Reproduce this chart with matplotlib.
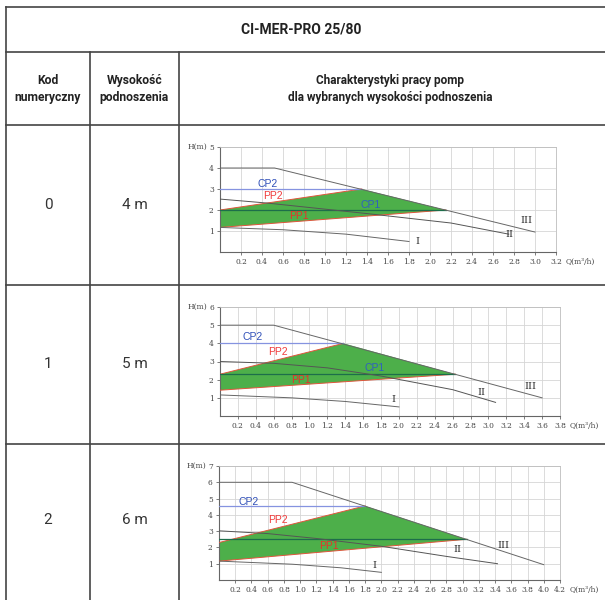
import matplotlib
matplotlib.use('Agg')
import matplotlib.pyplot as plt
from matplotlib.patches import Polygon

# dane z tabeli
kody = ['0', '1', '2']
wysokosci = ['4 m', '5 m', '6 m']
q_max = [3.2, 3.8, 4.2]
h_max = [5, 6, 7]

# krzywa III
q_III = [[0, 0.52, 3.0], [0, 0.6, 3.6], [0, 0.9, 4.0]]
h_III = [[4.0, 4.0, 0.95], [5.0, 5.0, 1.0], [6.0, 6.0, 0.94]]

# krzywa II
q_II = [[0, 0.45, 1.4, 2.2, 2.75],
        [0, 0.6, 1.2, 1.8, 2.6, 3.08],
        [0, 0.6, 1.2, 2.0, 2.8, 3.43]]
h_II = [[2.52, 2.33, 1.83, 1.38, 0.85],
        [3.0, 2.9, 2.65, 2.2, 1.45, 0.75],
        [3.02, 2.85, 2.55, 2.07, 1.45, 1.0]]

# krzywa I
q_I = [[0, 0.6, 1.2, 1.8], [0, 0.8, 1.4, 2.0], [0, 0.9, 1.5, 2.0]]
h_I = [[1.17, 1.06, 0.85, 0.5], [1.16, 1.0, 0.8, 0.5], [1.16, 0.97, 0.75, 0.47]]

# stale cisnienie / proporcjonalne
cp1_h = [2.0, 2.3, 2.5]
cp1_q = [2.15, 2.63, 3.05]
cp2_h = [3.0, 4.0, 4.55]
cp2_q = [1.35, 1.38, 1.8]
pp2_h0 = [2.0, 2.3, 2.3]
pp1_h0 = [1.17, 1.42, 1.16]

# pozycje etykiet (q, h)
etykiety = [
    {'CP2': (0.45, 3.25), 'PP2': (0.5, 2.65), 'CP1': (1.43, 2.25), 'PP1': (0.75, 1.7),
     'III': (2.92, 1.49), 'II': (2.76, 0.83), 'I': (1.88, 0.48)},
    {'CP2': (0.36, 4.34), 'PP2': (0.65, 3.5), 'CP1': (1.73, 2.62), 'PP1': (0.9, 1.97),
     'III': (3.47, 1.6), 'II': (2.92, 1.27), 'I': (1.94, 0.9)},
    {'CP2': (0.36, 4.8), 'PP2': (0.73, 3.67), 'PP1': (1.36, 2.08),
     'III': (3.5, 2.14), 'II': (2.94, 1.88), 'I': (1.91, 0.86)},
]
kolory_etykiet = {'CP2': '#2f4fb8', 'PP2': '#f03c3c', 'CP1': '#2f5fc0', 'PP1': '#e8302a',
                  'III': '#333333', 'II': '#333333', 'I': '#333333'}

# polozenie wykresow w pikselach (lewo, prawo, gora, dol)
osie_px = [(220, 556, 147, 252), (220, 560, 307, 416), (219, 560, 466, 580)]
wiersze_y = [125, 285, 444, 600]

W, H = 605, 600
fig = plt.figure(figsize=(W / 100, H / 100), dpi=100)
bg = fig.add_axes([0, 0, 1, 1])
bg.set_xlim(0, W)
bg.set_ylim(H, 0)
bg.axis('off')

lc = '#444444'
lw = 1.2
# linie tabeli
for y in [7, 52, 125, 285, 444]:
    bg.plot([6, W], [y, y], color=lc, lw=lw)
bg.plot([6, 6], [7, H], color=lc, lw=lw)
bg.plot([90, 90], [52, H], color=lc, lw=lw)
bg.plot([179, 179], [52, H], color=lc, lw=lw)

font = ['Roboto', 'DejaVu Sans']
bg.text(301, 30, 'CI-MER-PRO 25/80', ha='center', va='center', fontsize=10,
        fontweight='bold', family=font, color='#222222')
bg.text(48, 89, 'Kod\nnumeryczny', ha='center', va='center', fontsize=8.7,
        fontweight='bold', family=font, color='#222222', linespacing=1.35)
bg.text(134.5, 89, 'Wysokość\npodnoszenia', ha='center', va='center', fontsize=8.7,
        fontweight='bold', family=font, color='#222222', linespacing=1.35)
bg.text(390, 89, 'Charakterystyki pracy pomp\ndla wybranych wysokości podnoszenia',
        ha='center', va='center', fontsize=8.5, fontweight='bold', family=font,
        color='#222222', linespacing=1.35)

for i in range(3):
    yc = (wiersze_y[i] + wiersze_y[i + 1]) / 2 if i < 2 else 520
    bg.text(48, yc, kody[i], ha='center', va='center', fontsize=11, family=font, color='#333333')
    bg.text(134.5, yc, wysokosci[i], ha='center', va='center', fontsize=11, family=font, color='#333333')

serif = 'DejaVu Serif'
for i in range(3):
    l, r, t, b = osie_px[i]
    ax = fig.add_axes([l / W, 1 - b / H, (r - l) / W, (b - t) / H])
    ax.set_xlim(0, q_max[i])
    ax.set_ylim(0, h_max[i])
    xt = [round(0.2 * k, 1) for k in range(1, int(round(q_max[i] / 0.2)) + 1)]
    ax.set_xticks(xt)
    ax.set_xticklabels(['%.1f' % v for v in xt])
    ax.set_yticks(range(1, h_max[i] + 1))
    ax.grid(True, color='#d6d6d6', lw=0.6)
    ax.set_axisbelow(True)
    for s in ['top', 'right']:
        ax.spines[s].set_color('#bdbdbd')
        ax.spines[s].set_linewidth(0.6)
    for s in ['left', 'bottom']:
        ax.spines[s].set_color('#666666')
        ax.spines[s].set_linewidth(0.8)
    ax.tick_params(axis='both', labelsize=5.4, colors='#666666', length=2.5, width=0.6,
                   pad=2, labelcolor='#444444')
    for lab in ax.get_xticklabels() + ax.get_yticklabels():
        lab.set_family(serif)
    ax.annotate('H(m)', xy=(0, h_max[i]), xycoords=('axes fraction', 'data'),
                xytext=(-9, 0), textcoords='offset points', ha='right', va='center',
                fontsize=5.4, family=serif, color='#444444')
    ax.annotate('Q(m³/h)', xy=(1, 0), xycoords='axes fraction',
                xytext=(7, -4.5), textcoords='offset points', ha='left', va='top',
                fontsize=5.4, family=serif, color='#444444', annotation_clip=False)

    # obszar pracy
    pts = [(0, pp1_h0[i]), (0, pp2_h0[i]), (cp2_q[i], cp2_h[i]), (cp1_q[i], cp1_h[i])]
    ax.add_patch(Polygon(pts, closed=True, facecolor='#4daf4a', edgecolor='none', zorder=2))
    ax.plot([0, cp2_q[i]], [pp2_h0[i], cp2_h[i]], color='#e0553c', lw=0.7, zorder=3)
    ax.plot([0, cp1_q[i]], [pp1_h0[i], cp1_h[i]], color='#e0553c', lw=0.7, zorder=3)
    ax.plot([0, cp2_q[i]], [cp2_h[i], cp2_h[i]], color='#8593e0', lw=0.9, zorder=3)
    ax.plot([0, cp1_q[i]], [cp1_h[i], cp1_h[i]], color='#1d6e4a', lw=0.9, zorder=3)

    ax.plot(q_III[i], h_III[i], color='#666666', lw=0.7, zorder=4)
    ax.plot(q_II[i], h_II[i], color='#555555', lw=0.7, zorder=4)
    ax.plot(q_I[i], h_I[i], color='#666666', lw=0.7, zorder=4)

    for name, (qx, hy) in etykiety[i].items():
        roman = name in ('I', 'II', 'III')
        ax.text(qx, hy, name, ha='center', va='center', fontsize=7.5 if not roman else 7,
                family=['Liberation Sans', 'DejaVu Sans'] if not roman else serif,
                color=kolory_etykiet[name], zorder=5)

fig.savefig('out.png', dpi=100)
